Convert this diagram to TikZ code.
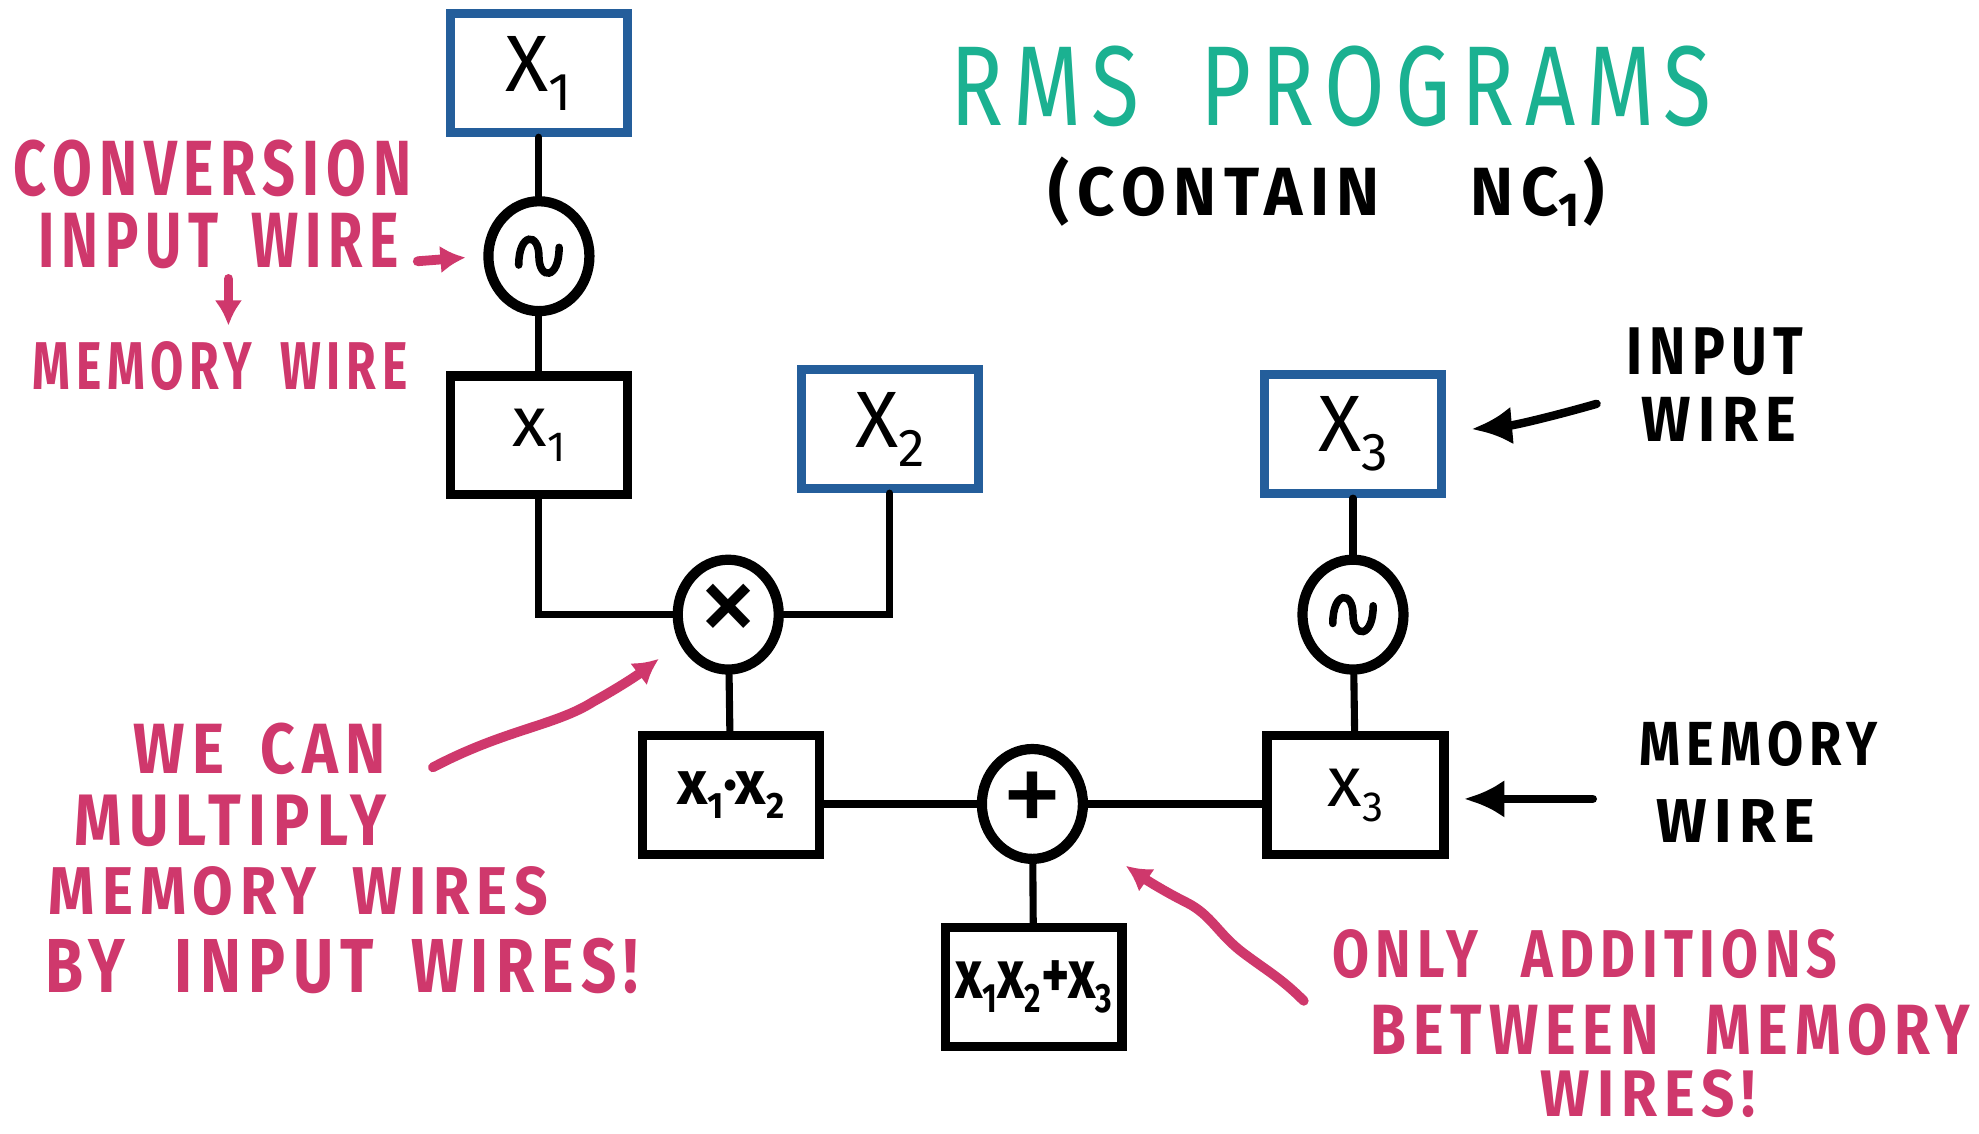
\documentclass[tikz,border=0pt]{standalone}
\usepackage{fontspec}
\setmainfont{Fira Sans}
\newfontfamily\hand[LetterSpace=12]{Fira Sans}
\usepackage{graphicx}
\usetikzlibrary{arrows.meta,shapes.geometric}

\definecolor{titleteal}{HTML}{1BB191}
\definecolor{notepink}{HTML}{CF386C}
\definecolor{inblue}{HTML}{245E9B}

% scale a text to a given width and height, both in units of 0.1 mm
\newcommand\fitto[3]{\resizebox{\dimexpr 0.1mm*#1\relax}{\dimexpr 0.1mm*#2\relax}{#3}}
\newcommand\fittow[3]{\resizebox*{\dimexpr 0.1mm*#1\relax}{\dimexpr 0.1mm*#2\relax}{#3}}
% a low, fairly large index digit
\newcommand\idx[1]{\raisebox{-0.45ex}{\fontsize{12}{12}\selectfont #1}}
\newcommand\sidx[1]{\raisebox{-0.4ex}{\fontsize{9.5}{9.5}\selectfont #1}}

\tikzset{
  boxbase/.style={rectangle, minimum width=1.4cm, minimum height=0.94cm, inner sep=0pt,
    line width=2.1pt},
  inbox/.style={boxbase, draw=inblue, font=\fontsize{18}{18}\selectfont},
  membox/.style={boxbase, draw=black, font=\fontsize{16}{16}\selectfont},
  opnode/.style={ellipse, draw=black, line width=2.3pt, minimum width=0.8cm,
    minimum height=0.87cm, inner sep=0pt, font=\fontsize{28}{28}\selectfont},
  wire/.style={line width=1.6pt, line cap=round},
  notetext/.style={inner sep=0pt, anchor=north west},
  pinkarrow/.style={draw=notepink, line width=2.2pt, line cap=round,
    -{Latex[length=0.2cm,width=0.22cm]}},
  blackarrow/.style={draw=black, line width=1.9pt, line cap=round,
    -{Latex[length=0.32cm,width=0.3cm]}},
  wave/.pic={\draw[line width=1.7pt, line cap=round]
    (-16,7) .. controls (-16,-19) and (0,-19) .. (0,0)
    .. controls (0,19) and (16,19) .. (16,-7);}
}

\begin{document}
\begin{tikzpicture}[x=0.01cm, y=-0.01cm]
\useasboundingbox (0,0) rectangle (1568,898);
\fill[white] (0,0) rectangle (1568,898);

% title
\node[notetext, text=titleteal] (title) at (752,36)
  {\fitto{603}{63}{\hand RMS\hspace{0.7em}PROGRAMS}};
\node[notetext] (subtitle) at (830,124)
  {\fittow{440}{55}{\hand\bfseries(CONTAIN\hspace{1.4em}NC\textsubscript{1})}};

% circuit nodes
\node[inbox] (in1) at (427,58) {X\idx{1}};
\node[opnode] (cv1) at (427,203) {};
\pic at (cv1) {wave};
\node[membox] (m1) at (427,345) {x\sidx{1}};
\node[inbox] (in2) at (705,340) {X\idx{2}};
\node[opnode] (mul) at (577,487) {×};
\node[inbox] (in3) at (1072,344) {X\idx{3}};
\node[opnode] (cv3) at (1072,487) {};
\pic at (cv3) {wave};
\node[membox] (m3) at (1074,630) {x\sidx{3}};
\node[membox] (prod) at (579,630)
  {\fitto{85}{26}{\bfseries x\sidx{1}·x\sidx{2}}};
\node[opnode] (add) at (818,637) {+};
\node[membox] (sum) at (819,782)
  {\fitto{124}{30}{\bfseries x\sidx{1}x\sidx{2}+x\sidx{3}}};

% wires
\draw[wire] (in1) -- (cv1);
\draw[wire] (cv1) -- (m1);
\draw[wire] (m1.south) -- (m1.south |- mul.west) -- (mul.west);
\draw[wire] (in2.south) -- (in2.south |- mul.east) -- (mul.east);
\draw[wire] (mul) -- (prod);
\draw[wire] (add.west -| prod.east) -- (add.west);
\draw[wire] (add.east) -- (add.east -| m3.west);
\draw[wire] (in3) -- (cv3);
\draw[wire] (cv3) -- (m3);
\draw[wire] (add) -- (sum);

% notes on the left
\node[notetext, text=notepink] (n1) at (10,110) {\fitto{315}{44}{\hand\bfseries CONVERSION}};
\node[notetext, text=notepink] (n2) at (30,168) {\fitto{285}{43}{\hand\bfseries INPUT\hspace{0.6em}WIRE}};
\node[notetext, text=notepink] (n3) at (25,270) {\fitto{297}{38}{\hand\bfseries MEMORY\hspace{0.6em}WIRE}};
\coordinate (d1) at (181,221);
\coordinate (d2) at (181,258);
\draw[pinkarrow] (d1) -- (d2);
\coordinate (c1) at (331,207);
\draw[pinkarrow, shorten >=0.14cm] (c1) -- (cv1.west);

\node[notetext, text=notepink] (n4) at (105,572) {\fitto{200}{40}{\hand\bfseries WE\hspace{0.6em}CAN}};
\node[notetext, text=notepink] (n5) at (58,629) {\fitto{247}{40}{\hand\bfseries MULTIPLY}};
\node[notetext, text=notepink] (n6) at (38,686) {\fitto{395}{38}{\hand\bfseries MEMORY\hspace{0.6em}WIRES}};
\node[notetext, text=notepink] (n7) at (35,743) {\fitto{470}{43}{\hand\bfseries BY\hspace{0.8em}INPUT\hspace{0.6em}WIRES!}};
\coordinate (w1) at (343,608);
\coordinate (w2) at (522,522);
\draw[pinkarrow] (w1) .. controls (400,578) and (440,575) .. (470,556)
  .. controls (490,545) and (505,535) .. (w2);

% notes on the lower right
\node[notetext, text=notepink] (n8) at (1055,736) {\fitto{400}{38}{\hand\bfseries ONLY\hspace{0.8em}ADDITIONS}};
\node[notetext, text=notepink] (n9) at (1085,795) {\fitto{475}{40}{\hand\bfseries BETWEEN\hspace{0.8em}MEMORY}};
\node[notetext, text=notepink] (n10) at (1220,847) {\fitto{170}{37}{\hand\bfseries WIRES!}};
\coordinate (p1) at (1033,793);
\coordinate (p2) at (892,686);
\draw[pinkarrow] (p1) .. controls (1015,775) and (1005,770) .. (985,755)
  .. controls (965,740) and (960,725) .. (940,715)
  .. controls (920,705) and (905,695) .. (p2);

% notes on the right
\node[notetext] (n11) at (1288,259) {\fitto{140}{37}{\hand\bfseries INPUT}};
\node[notetext] (n12) at (1300,314) {\fitto{122}{35}{\hand\bfseries WIRE}};
\coordinate (b1) at (1265,320);
\coordinate (b2) at (1166,340);
\draw[blackarrow] (b1) .. controls (1230,330) and (1200,337) .. (b2);
\node[notetext] (n13) at (1298,571) {\fitto{189}{35}{\hand\bfseries MEMORY}};
\node[notetext] (n14) at (1312,633) {\fitto{125}{34}{\hand\bfseries WIRE}};
\coordinate (b3) at (1262,633);
\coordinate (b4) at (1160,633);
\draw[blackarrow] (b3) -- (b4);
\end{tikzpicture}
\end{document}
